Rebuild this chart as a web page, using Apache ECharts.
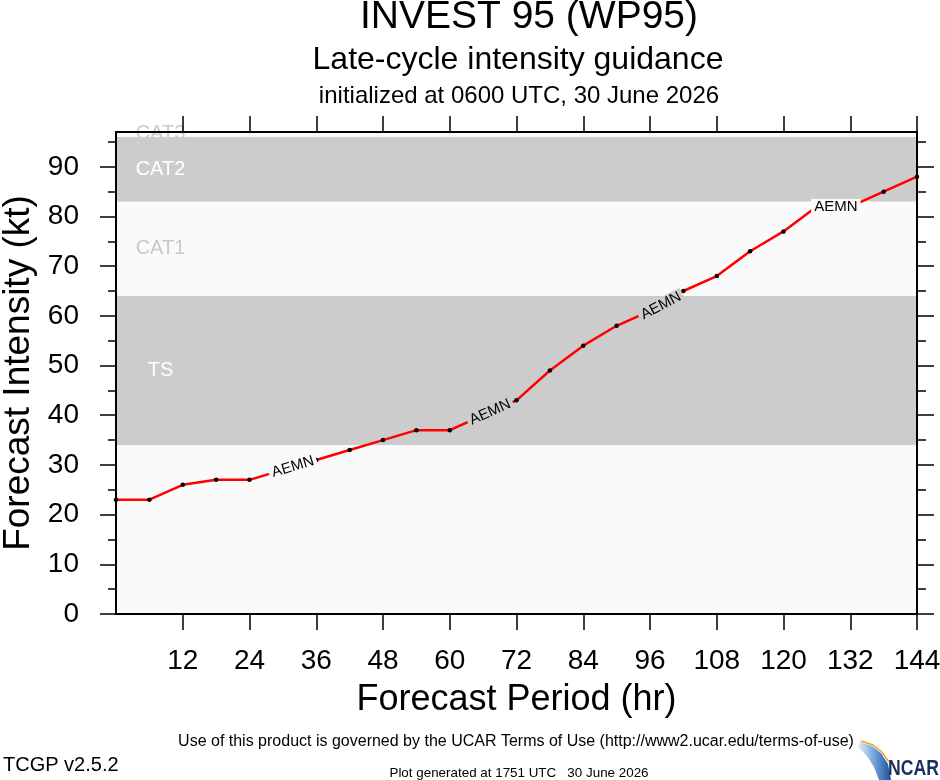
<!DOCTYPE html>
<html>
<head>
<meta charset="utf-8">
<script src="https://cdn.jsdelivr.net/npm/echarts@6/dist/echarts.min.js"></script>
<style>html,body{margin:0;padding:0;background:#fff}#c{width:940px;height:780px}</style>
</head>
<body>
<div id="c"></div>
<script>
// ---- data ----
const hours = [0,6,12,18,24,30,36,42,48,54,60,66,72,78,84,90,96,102,108,114,120,126,132,138,144];
const aemn  = [23,23,26,27,27,29,31,33,35,37,37,40,43,49,54,58,61,65,68,73,77,82,82,85,88];
const modelName = 'AEMN';
const labelHours = [30,66,96,126];
const xTicks = [12,24,36,48,60,72,84,96,108,120,132,144];
const yMajor = [0,10,20,30,40,50,60,70,80,90];
const yMinor = [5,15,25,35,45,55,65,75,85,95];
const bandNames = ['TS','CAT1','CAT2'];
const bandLow  = [34,64,83];
const bandHigh = [64,83,96];
const cat3Name = 'CAT3';

// ---- styles ----
const FONT = 'Liberation Sans';
const GRAY = '#cccccc', LIGHT = '#fafafa';
const bandFill  = {TS: GRAY, CAT1: LIGHT, CAT2: GRAY};
const bandText  = {TS: '#ffffff', CAT1: '#c8c8c8', CAT2: '#ffffff'};
const SYM = 4.5;
const labelStyle = {
  30:  {rotate: 16.6, dx: 10, dy: -3, bg: LIGHT},
  66:  {rotate: 24,   dx: 7,  dy: -3, bg: GRAY},
  96:  {rotate: 27.5, dx: 11, dy: -5, bg: GRAY},
  126: {rotate: 0,    dx: 19, dy: 0,  bg: LIGHT}
};

const seriesData = hours.map((h, i) => {
  const item = {value: [h, aemn[i]]};
  if (labelHours.indexOf(h) >= 0) {
    const s = labelStyle[h];
    item.label = {
      show: true, formatter: modelName,
      position: [SYM / 2 + s.dx, SYM / 2 + s.dy], align: 'center', verticalAlign: 'middle',
      rotate: s.rotate, backgroundColor: s.bg,
      padding: [0, 3], color: '#000', fontSize: 15, fontFamily: FONT
    };
  }
  return item;
});

const markAreaData = bandNames.map((n, i) => [
  {name: n, yAxis: bandLow[i], itemStyle: {color: bandFill[n]},
   label: {show: true, position: [44.5, '50%'], align: 'center', verticalAlign: 'middle',
           color: bandText[n], fontSize: 20, fontFamily: FONT}},
  {yAxis: bandHigh[i]}
]);

const axisLineStyle = {color: '#000', width: 2};
const tickStyle = {color: '#000', width: 1.5};
const baseY = {type: 'value', min: 0, max: 97, interval: 10, z: 10,
  splitLine: {show: false}, axisLine: {show: true, lineStyle: axisLineStyle}};

const chart = echarts.init(document.getElementById('c'), null, {renderer: 'canvas'});
chart.setOption({
  animation: false,
  backgroundColor: '#ffffff',
  textStyle: {fontFamily: FONT},
  grid: {left: 116, right: 23, top: 132, bottom: 166, show: true,
         backgroundColor: LIGHT, borderWidth: 0, containLabel: false, outerBoundsMode: 'none'},
  xAxis: [
    {type: 'value', position: 'bottom', min: 0, max: 144, interval: 12, z: 10,
     axisLine: {show: true, onZero: false, lineStyle: axisLineStyle},
     axisTick: {show: true, inside: false, length: 16, customValues: xTicks, lineStyle: tickStyle},
     axisLabel: {show: true, customValues: xTicks, margin: 33, fontSize: 28, color: '#000', fontFamily: FONT},
     splitLine: {show: false},
     name: 'Forecast Period (hr)', nameLocation: 'middle', nameGap: 68,
     nameTextStyle: {fontSize: 36, color: '#000', fontFamily: FONT}},
    {type: 'value', position: 'top', min: 0, max: 144, interval: 12, z: 10,
     axisLine: {show: true, onZero: false, lineStyle: axisLineStyle},
     axisTick: {show: true, inside: false, length: 16, customValues: xTicks, lineStyle: tickStyle},
     axisLabel: {show: false}, splitLine: {show: false}}
  ],
  yAxis: [
    Object.assign({}, baseY, {position: 'left',
      axisTick: {show: true, inside: false, length: 16, customValues: yMajor, lineStyle: tickStyle},
      axisLabel: {show: true, customValues: yMajor, margin: 37, fontSize: 28, color: '#000', fontFamily: FONT},
      name: 'Forecast Intensity (kt)', nameLocation: 'middle', nameGap: 76,
      nameTextStyle: {fontSize: 37, color: '#000', fontFamily: FONT}}),
    Object.assign({}, baseY, {position: 'left',
      axisTick: {show: true, inside: false, length: 8, customValues: yMinor, lineStyle: tickStyle},
      axisLabel: {show: false}}),
    Object.assign({}, baseY, {position: 'right',
      axisTick: {show: true, inside: false, length: 17, customValues: yMajor, lineStyle: tickStyle},
      axisLabel: {show: false}}),
    Object.assign({}, baseY, {position: 'right',
      axisTick: {show: true, inside: false, length: 9, customValues: yMinor, lineStyle: tickStyle},
      axisLabel: {show: false}})
  ],
  series: [{
    type: 'line', name: modelName, xAxisIndex: 0, yAxisIndex: 0, z: 3,
    data: seriesData,
    showAllSymbol: true, symbol: 'circle', symbolSize: SYM,
    itemStyle: {color: '#000'},
    lineStyle: {color: '#ff0000', width: 2.5},
    labelLayout: {hideOverlap: false},
    markArea: {silent: true, data: markAreaData}
  }],
  graphic: [
    {type: 'text', z: 1, style: {text: cat3Name, x: 160.5, y: 133, align: 'center', verticalAlign: 'middle',
      fill: '#cccccc', font: '20px "Liberation Sans"'}},
    {type: 'text', z: 20, style: {text: 'INVEST 95 (WP95)', x: 529, y: 17, align: 'center', verticalAlign: 'middle',
      fill: '#000', font: '39px "Liberation Sans"'}},
    {type: 'text', z: 20, style: {text: 'Late-cycle intensity guidance', x: 518, y: 60, align: 'center', verticalAlign: 'middle',
      fill: '#000', font: '32px "Liberation Sans"'}},
    {type: 'text', z: 20, style: {text: 'initialized at 0600 UTC, 30 June 2026', x: 519, y: 96, align: 'center', verticalAlign: 'middle',
      fill: '#000', font: '24px "Liberation Sans"'}},
    {type: 'text', z: 20, style: {text: 'Use of this product is governed by the UCAR Terms of Use (http://www2.ucar.edu/terms-of-use)',
      x: 516, y: 742, align: 'center', verticalAlign: 'middle', fill: '#000', font: '16px "Liberation Sans"'}},
    {type: 'text', z: 20, style: {text: 'TCGP v2.5.2', x: 3, y: 765, align: 'left', verticalAlign: 'middle',
      fill: '#000', font: '20px "Liberation Sans"'}},
    {type: 'text', z: 20, style: {text: 'Plot generated at 1751 UTC   30 June 2026', x: 519, y: 773, align: 'center', verticalAlign: 'middle',
      fill: '#000', font: '13.4px "Liberation Sans"'}},
    {type: 'polygon', z: 20, shape: {points: [[860,742],[872,746],[881,753],[888,764],[891,780],[879,780],[874,767],[867,756],[858,747]]},
      style: {fill: new echarts.graphic.LinearGradient(0, 0, 1, 0, [{offset: 0, color: '#e3eef8'}, {offset: 0.5, color: '#6fa3d8'}, {offset: 1, color: '#1b4f9e'}])}},
    {type: 'polyline', z: 21, shape: {points: [[861,741],[873,745],[882,752],[889,762]]},
      style: {stroke: '#f0a030', lineWidth: 1.5, fill: null}},
    {type: 'text', z: 20, x: 888, y: 769, scaleX: 0.8, style: {text: 'NCAR', x: 0, y: 0, align: 'left', verticalAlign: 'middle',
      fill: '#1b2f5e', font: 'bold 22px "Liberation Sans"'}}
  ]
});
</script>
</body>
</html>
